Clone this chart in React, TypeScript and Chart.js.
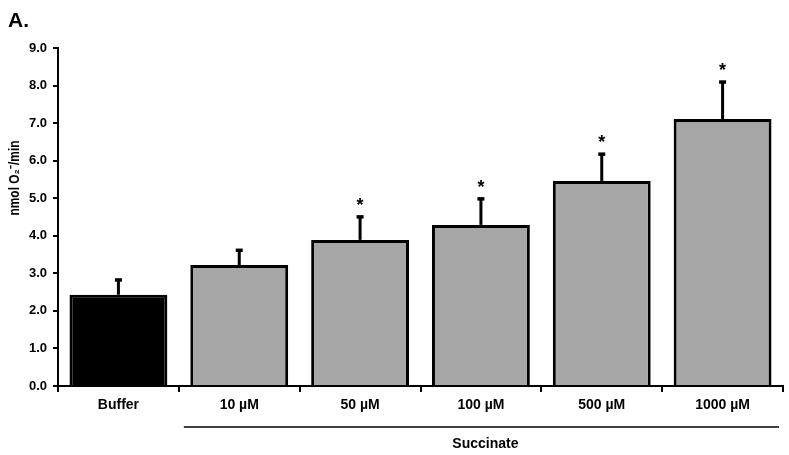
import React, { useEffect, useRef } from "react";
import { Chart, registerables } from "chart.js";

Chart.register(...registerables);

const categories = ["Buffer", "10 µM", "50 µM", "100 µM", "500 µM", "1000 µM"];
const means = [2.43, 3.22, 3.89, 4.29, 5.46, 7.11];
const errors = [0.4, 0.4, 0.62, 0.7, 0.72, 0.99];
const significant = [false, false, true, true, true, true];
const barColors = ["#000000", "#a6a6a6", "#a6a6a6", "#a6a6a6", "#a6a6a6", "#a6a6a6"];
const yTickValues = [0, 1, 2, 3, 4, 5, 6, 7, 8, 9];
const groupLabel = "Succinate";
const groupStart = 1;
const groupEnd = 5;
const panelLabel = "A.";
const yTitle = "nmol O₂⁻/min";

const FONT = "'Liberation Sans', Arial, sans-serif";

const extrasPlugin = {
  id: "extras",
  afterDatasetsDraw(chart: any) {
    const ctx = chart.ctx;
    const yScale = chart.scales.y;
    const xScale = chart.scales.x;
    const meta = chart.getDatasetMeta(0);
    ctx.save();
    meta.data.forEach((el: any, i: number) => {
      const x = el.x;
      const yBar = el.y;
      const yTop = yScale.getPixelForValue(means[i] + errors[i]);
      ctx.strokeStyle = "#000";
      ctx.lineWidth = 3;
      ctx.beginPath();
      ctx.moveTo(x, yBar);
      ctx.lineTo(x, yTop);
      ctx.stroke();
      ctx.fillStyle = "#000";
      ctx.fillRect(x - 3.5, yTop - 1.5, 7, 3.5);
      if (significant[i]) {
        ctx.font = `bold 18px ${FONT}`;
        ctx.textAlign = "center";
        ctx.textBaseline = "alphabetic";
        ctx.fillText("*", x, yTop - 6);
      }
    });
    // group bracket
    const catW = (xScale.right - xScale.left) / categories.length;
    const x1 = xScale.getPixelForValue(groupStart) - catW / 2 + 5;
    const x2 = xScale.getPixelForValue(groupEnd) + catW / 2 - 4;
    ctx.strokeStyle = "#000";
    ctx.lineWidth = 1.5;
    ctx.beginPath();
    ctx.moveTo(x1, 427);
    ctx.lineTo(x2, 427);
    ctx.stroke();
    ctx.font = `bold 14px ${FONT}`;
    ctx.textAlign = "center";
    ctx.textBaseline = "middle";
    ctx.fillStyle = "#000";
    ctx.fillText(groupLabel, (x1 + x2) / 2 + 4, 444);
    // panel label
    ctx.font = `bold 21px ${FONT}`;
    ctx.textAlign = "left";
    ctx.textBaseline = "alphabetic";
    ctx.fillText(panelLabel, 8, 27);
    // y-axis title
    ctx.translate(15, 178);
    ctx.rotate(-Math.PI / 2);
    ctx.scale(0.85, 1);
    ctx.font = `bold 14px ${FONT}`;
    ctx.textAlign = "center";
    ctx.textBaseline = "middle";
    ctx.fillText(yTitle, 0, 0);
    ctx.restore();
  },
};

export default function App() {
  const canvasRef = useRef<HTMLCanvasElement | null>(null);

  useEffect(() => {
    if (!canvasRef.current) return;
    const chart = new Chart(canvasRef.current, {
      type: "bar",
      data: {
        labels: categories,
        datasets: [
          {
            data: means,
            backgroundColor: barColors,
            borderColor: "#000",
            borderWidth: 3,
            categoryPercentage: 0.81,
            barPercentage: 1,
          },
        ],
      },
      options: {
        animation: false,
        responsive: false,
        maintainAspectRatio: false,
        layout: { padding: { top: 48, right: 6, bottom: 0, left: 0 } },
        plugins: {
          legend: { display: false },
          tooltip: { enabled: false },
        },
        scales: {
          x: {
            grid: {
              display: true,
              drawOnChartArea: false,
              drawTicks: true,
              tickLength: 6,
              color: "#000",
              lineWidth: 2,
              offset: true,
            },
            border: { display: true, color: "#000", width: 2 },
            ticks: {
              color: "#000",
              font: { family: FONT, size: 14, weight: "bold" },
              padding: 5,
              maxRotation: 0,
            },
            afterFit: (s: any) => {
              s.height = 69;
            },
          },
          y: {
            min: 0,
            max: 9,
            afterBuildTicks: (s: any) => {
              s.ticks = yTickValues.map((v) => ({ value: v }));
            },
            grid: {
              display: true,
              drawOnChartArea: false,
              drawTicks: true,
              tickLength: 5,
              color: "#000",
              lineWidth: 2,
            },
            border: { display: true, color: "#000", width: 2 },
            ticks: {
              color: "#000",
              font: { family: FONT, size: 13, weight: "bold" },
              padding: 6,
              callback: (v: any) => Number(v).toFixed(1),
            },
            afterFit: (s: any) => {
              s.width = 58;
            },
          },
        },
      },
      plugins: [extrasPlugin],
    });
    return () => chart.destroy();
  }, []);

  return (
    <div style={{ position: "absolute", left: 0, top: 0, width: 789, height: 455, background: "#fff" }}>
      <canvas ref={canvasRef} width={789} height={455} style={{ width: 789, height: 455 }} />
    </div>
  );
}
